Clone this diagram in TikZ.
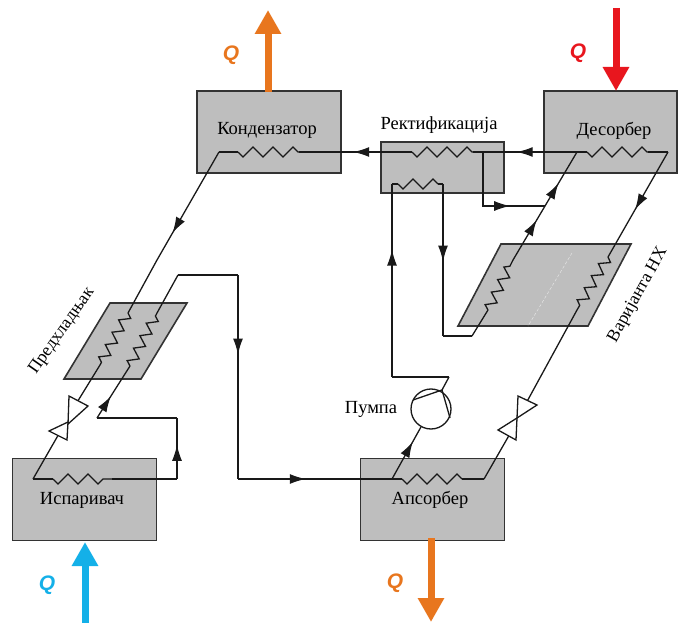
\documentclass[tikz,border=0pt]{standalone}
\usepackage{fontspec}
\setmainfont{Liberation Serif}
\setsansfont{Liberation Sans}
\usetikzlibrary{arrows.meta,decorations.pathmorphing,decorations.markings}

\definecolor{boxgrey}{HTML}{BEBEBE}
\definecolor{heatorange}{HTML}{E8761E}
\definecolor{heatred}{HTML}{E8161E}
\definecolor{heatblue}{HTML}{14B0E8}

\tikzset{
  unitbox/.style={draw=black!80,fill=boxgrey,line width=1.6pt,minimum width=#1,minimum height=82pt,inner sep=0pt,outer sep=0pt},
  unitbox/.default=144pt,
  hxplate/.style={draw=black!80,fill=boxgrey,line width=1.6pt},
  pipe/.style={line width=1.3pt,line join=miter,black!90},
  coil/.style={pipe,decorate,decoration={zigzag,segment length=14pt,amplitude=5pt}},
  coilm/.style={pipe,decorate,decoration={zigzag,segment length=20pt,amplitude=5pt,mirror}},
  flowat/.style={postaction={decorate,decoration={markings,mark=at position #1 with {\arrow{Latex[length=16pt,width=10pt]}}}}},
  valve/.style={draw=black!90,fill=white,line width=1.3pt,line join=miter},
  label/.style={font=\fontsize{18.5}{21}\selectfont,inner sep=0pt},
  sidelabel/.style={font=\fontsize{17.6}{20}\selectfont,inner sep=0pt},
  qmark/.style={font=\fontsize{21}{24}\sffamily\bfseries\itshape,inner sep=0pt},
  heat/.style={line width=7pt,-{Triangle[width=25pt,length=24pt]},#1},
}

\begin{document}
\begin{tikzpicture}[x=1pt,y=-1pt]
  \useasboundingbox (0,0) rectangle (678,623);

  % units
  \node[unitbox] (kond) at (269,132) {};
  \node[unitbox=123pt,minimum height=51pt] (rekt) at (442.5,167.5) {};
  \node[unitbox=133pt] (des) at (610.5,132) {};
  \node[unitbox] (isp) at (84.5,499.5) {};
  \node[unitbox] (aps) at (432.5,499.5) {};

  % heat exchangers
  \coordinate (va) at (458,326);
  \coordinate (vb) at (588,326);
  \coordinate (vc) at (631,244);
  \coordinate (vd) at (501,244);
  \coordinate (pa) at (64,379);
  \coordinate (pb) at (141,379);
  \coordinate (pc) at (187,303);
  \coordinate (pd) at (110,303);
  \draw[hxplate] (va) -- (vb) -- (vc) -- (vd) -- cycle;
  \draw[hxplate] (pa) -- (pb) -- (pc) -- (pd) -- cycle;
  \coordinate (seamA) at (572,253);
  \coordinate (seamB) at (528,326);
  \draw[boxgrey!40!white,line width=.5pt,densely dashed] (seamA) -- (seamB);

  % labels
  \node[label] (tkond) at (267,130) {Кондензатор};
  \node[label] (trekt) at (439,125) {Ректификација};
  \node[label] (tdes) at (614,131) {Десорбер};
  \node[label] (tisp) at (82,500) {Испаривач};
  \node[label] (taps) at (430,500) {Апсорбер};
  \node[label] (tpump) at (371,409) {Пумпа};
  \node[sidelabel,rotate=61] (tvar) at (638,295) {Варијанта НХ};
  \node[sidelabel,rotate=55] (tpred) at (62,331) {Предхладњак};

  % top line
  \coordinate (k1) at (219,152);
  \coordinate (k2) at (238,152);
  \coordinate (k3) at (299,152);
  \coordinate (r1) at (412,152);
  \coordinate (r2) at (473,152);
  \coordinate (d1) at (577,152);
  \coordinate (d2) at (587,152);
  \coordinate (d3) at (648,152);
  \coordinate (d4) at (668,152);
  \coordinate (rb) at (483,152);
  \coordinate (rc) at (483,206);
  \coordinate (rd) at (545,206);
  % lower coil of the rectifier
  \coordinate (l1) at (392,184);
  \coordinate (l2) at (398,184);
  \coordinate (l3) at (438,184);
  \coordinate (l4) at (443,184);
  \coordinate (l5) at (443,336);
  \coordinate (l6) at (472,336);
  % variant HX
  \coordinate (v1) at (488,310);
  \coordinate (v2) at (513,260);
  \coordinate (v3) at (608,257);
  \coordinate (v4) at (577,310);
  % absorber and pump
  \coordinate (a1) at (238,479);
  \coordinate (a2) at (392,479);
  \coordinate (a3) at (402,479);
  \coordinate (a4) at (462,479);
  \coordinate (a5) at (484,479);
  \node[draw=black!90,line width=1.3pt,circle,minimum size=40pt,inner sep=0pt] (pump) at (431,409) {};
  \coordinate (p1) at (413,400);
  \coordinate (p2) at (442,390);
  \coordinate (p3) at (450,418);
  \coordinate (p4) at (449,377);
  \coordinate (p5) at (392,377);
  % right valve
  \coordinate (w1) at (524,407);
  \coordinate (w2) at (511,432);
  % left side
  \coordinate (s1) at (157,260);
  \coordinate (s2) at (128,313);
  \coordinate (s3) at (100,365);
  \coordinate (s4) at (76,404);
  \coordinate (s5) at (60,432);
  \coordinate (i1) at (33,479);
  \coordinate (i2) at (53,479);
  \coordinate (i3) at (112,479);
  \coordinate (i4) at (177,479);
  \coordinate (i5) at (177,418);
  \coordinate (i6) at (97,418);
  \coordinate (t1) at (130,366);
  \coordinate (t2) at (157,313);
  \coordinate (t3) at (178,275);
  \coordinate (t4) at (238,275);

  % zigzag parts
  \foreach \from/\to in {k2/k3, r1/r2, d2/d3, a3/a4, i2/i3, l2/l3}
    \draw[coilm] (\from) -- (\to);
  \foreach \from/\to in {v1/v2, v3/v4, s2/s3, t1/t2}
    \draw[coil] (\from) -- (\to);

  % plain parts
  \foreach \from/\to in {k1/k2, r2/d2, d3/d4, l1/l2, l3/l4, l5/l6, l6/v1, a3/a2, a4/a5, a5/w2, i2/i1, i3/i4, s3/s4, s5/i1, t2/t3, t3/t4, p2/p4, p4/p5, v4/w1, s1/s2, i5/i6}
    \draw[pipe] (\from) -- (\to);
  \draw[pipe] (p1) -- (p2) -- (p3);

  % arrows on the lines
  \draw[pipe,flowat=.75] (k1) -- (s1);
  \draw[pipe,flowat=.52] (r1) -- (k3);
  \draw[pipe,flowat=.58] (d1) -- (r2);
  \draw[pipe,flowat=.7] (rb) -- (rc) -- (rd);
  \draw[pipe,flowat=.51] (l4) -- (l5);
  \draw[pipe,flowat=.37,flowat=.71] (v2) -- (d1);
  \draw[pipe,flowat=.55] (d4) -- (v3);
  \draw[pipe,flowat=.66] (p5) -- (l1);
  \draw[pipe,flowat=.44] (a1) -- (a2);
  \draw[pipe,flowat=.72] (a2) -- (pump);
  \draw[pipe,flowat=.56] (i4) -- (i5);
  \draw[pipe,flowat=.42] (i6) -- (t1);
  \draw[pipe,flowat=.39] (t4) -- (a1);

  % valves
  \draw[valve] (69,396) -- (88,406) -- (68,424) -- cycle;
  \draw[valve] (49,431) -- (68,422) -- (67,440) -- cycle;
  \draw[valve] (518,396) -- (537,405) -- (517,418) -- cycle;
  \draw[valve] (498,430) -- (517,418) -- (516,440) -- cycle;

  % heat flows
  \coordinate (qka) at (268,92);
  \coordinate (qkb) at (268,10);
  \coordinate (qda) at (616,8);
  \coordinate (qdb) at (616,91);
  \coordinate (qia) at (85,623);
  \coordinate (qib) at (85,542);
  \coordinate (qaa) at (431,538);
  \coordinate (qab) at (431,622);
  \draw[heat=heatorange] (qka) -- (qkb);
  \draw[heat=heatred] (qda) -- (qdb);
  \draw[heat=heatblue] (qia) -- (qib);
  \draw[heat=heatorange] (qaa) -- (qab);
  \node[qmark,text=heatorange] (qk) at (231,55) {Q};
  \node[qmark,text=heatred] (qd) at (578,53) {Q};
  \node[qmark,text=heatblue] (qi) at (47,585) {Q};
  \node[qmark,text=heatorange] (qa) at (395,583) {Q};
\end{tikzpicture}
\end{document}
